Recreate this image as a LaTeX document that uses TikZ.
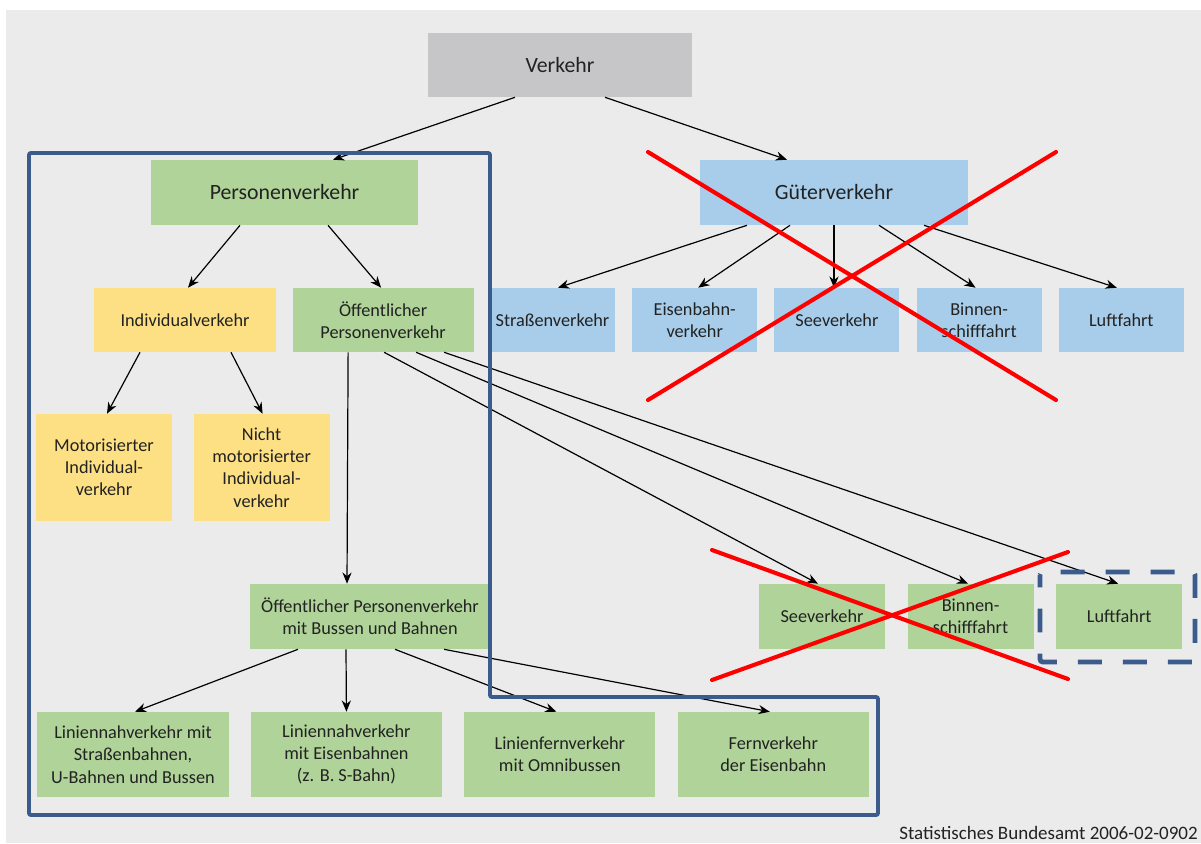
\documentclass[tikz,border=0pt]{standalone}
\usepackage{fontspec}
\setmainfont{Carlito}
\usepackage{xcolor}
\usepackage{tikz}
\usetikzlibrary{shapes,arrows,arrows.meta,positioning,calc}
\definecolor{bggray}{HTML}{EBEBEB}
\definecolor{topgray}{HTML}{C6C6C8}
\definecolor{pgreen}{HTML}{AFD398}
\definecolor{pyellow}{HTML}{FDE083}
\definecolor{gblue}{HTML}{A7CDEA}
\definecolor{framblue}{HTML}{3B5B8C}
\definecolor{txtgray}{HTML}{222222}
\tikzstyle{bigbox} = [rectangle, inner sep=0pt, text centered, align=center, minimum height=1.625cm, text=txtgray, font=\fontsize{15.5}{18}\selectfont]
\tikzstyle{process} = [rectangle, inner sep=0pt, text centered, align=center, minimum height=1.6cm, text=txtgray, font=\fontsize{13}{15.8}\selectfont]
\tikzstyle{arrow} = [line width=0.85pt,->,>={Stealth[length=8pt,width=6.5pt]}]
\tikzstyle{frame} = [draw=framblue, line width=2.8pt, rounded corners=1.5pt]
\tikzstyle{dashframe} = [draw=framblue, line width=3.4pt, rounded corners=2pt, dash pattern=on 17pt off 15pt, dash phase=8pt]
\tikzstyle{cross} = [draw=red, line width=2.9pt, line cap=round]

\begin{document}
\begin{tikzpicture}[x=0.025cm, y=-0.025cm]
    \useasboundingbox (0,0) rectangle (1201,843);
    \fill[white] (0,0) rectangle (1201,843);
    \fill[bggray] (6,10) rectangle (1201,843);

    % Top levels
    \node [bigbox, fill=topgray, minimum width=6.6cm, minimum height=1.6cm] (verkehr) at (560,65) {Verkehr};
    \node [bigbox, fill=pgreen, minimum width=6.675cm] (personen) at (284.5,192.5) {Personenverkehr};
    \node [bigbox, fill=gblue, minimum width=6.7cm] (gueter) at (834,192.5) {Güterverkehr};

    % Personenverkehr
    \node [process, fill=pyellow, minimum width=4.55cm] (individual) at (185,320) {Individualverkehr};
    \node [process, fill=pgreen, minimum width=4.525cm, right=0.4cm of individual] (oeffentlich) {Öffentlicher\\Personenverkehr};
    \node [process, fill=pyellow, minimum width=3.4cm, minimum height=2.675cm] (motor) at (104,467.5) {Motorisierter\\Individual-\\verkehr};
    \node [process, fill=pyellow, minimum width=3.4cm, minimum height=2.675cm, right=0.525cm of motor] (nichtmotor) {Nicht\\motorisierter\\Individual-\\verkehr};
    \node [process, fill=pgreen, minimum width=6cm, minimum height=1.625cm] (oepnv) at (370,616.5) {Öffentlicher Personenverkehr\\mit Bussen und Bahnen};
    \node [process, fill=pgreen, minimum width=3.15cm, minimum height=1.625cm] (seeP) at (822,616.5) {Seeverkehr};
    \node [process, fill=pgreen, minimum width=3.15cm, minimum height=1.625cm, right=0.55cm of seeP] (binnenP) {Binnen-\\schifffahrt};
    \node [process, fill=pgreen, minimum width=3.15cm, minimum height=1.625cm, right=0.55cm of binnenP] (luftP) {Luftfahrt};
    \node [process, fill=pgreen, minimum width=4.775cm, minimum height=2.125cm] (nahstrab) at (133,754.5) {Liniennahverkehr mit\\Straßenbahnen,\\U-Bahnen und Bussen};
    \node [process, fill=pgreen, minimum width=4.775cm, minimum height=2.125cm, right=0.545cm of nahstrab] (naheisen) {Liniennahverkehr\\mit Eisenbahnen\\(z. B. S-Bahn)};
    \node [process, fill=pgreen, minimum width=4.775cm, minimum height=2.125cm, right=0.545cm of naheisen] (fernbus) {Linienfernverkehr\\mit Omnibussen};
    \node [process, fill=pgreen, minimum width=4.775cm, minimum height=2.125cm, right=0.545cm of fernbus] (ferneisen) {Fernverkehr\\der Eisenbahn};

    % Gueterverkehr
    \node [process, fill=gblue, minimum width=3.125cm] (strasse) at (552.5,320) {Straßenverkehr};
    \node [process, fill=gblue, minimum width=3.125cm, right=0.415cm of strasse] (eisenbahn) {Eisenbahn-\\verkehr};
    \node [process, fill=gblue, minimum width=3.125cm, right=0.415cm of eisenbahn] (seeG) {Seeverkehr};
    \node [process, fill=gblue, minimum width=3.125cm, right=0.415cm of seeG] (binnenG) {Binnen-\\schifffahrt};
    \node [process, fill=gblue, minimum width=3.125cm, right=0.415cm of binnenG] (luftG) {Luftfahrt};

    \node [anchor=base west, inner sep=0pt, text=txtgray, font=\fontsize{13.5}{15}\selectfont] (quelle) at (899,839) {Statistisches Bundesamt 2006-02-0902};

    % Arrows
    \draw [arrow] ($(verkehr.south)+(-45,0)$) -- ($(personen.north)+(48.5,0)$);
    \draw [arrow] ($(verkehr.south)+(45,0)$) -- ($(gueter.north)+(-47,0)$);
    \draw [arrow] ($(personen.south)+(-44.5,0)$) -- ($(individual.north)+(3,0)$);
    \draw [arrow] ($(personen.south)+(43.5,0)$) -- ($(oeffentlich.north)+(-2,0)$);
    \draw [arrow] ($(individual.south)+(-45,0)$) -- ($(motor.north)+(3,0)$);
    \draw [arrow] ($(individual.south)+(46,0)$) -- ($(nichtmotor.north)+(1,0)$);
    \draw [arrow] ($(oeffentlich.south)+(-35,0)$) -- ($(oepnv.north)+(-23,0)$);
    \draw [arrow] ($(oeffentlich.south)+(1,0)$) -- ($(seeP.north)+(-4,0)$);
    \draw [arrow] ($(oeffentlich.south)+(33,0)$) -- ($(binnenP.north)+(-2.5,0)$);
    \draw [arrow] ($(oeffentlich.south)+(61,0)$) -- ($(luftP.north)+(-1,0)$);
    \draw [arrow] ($(oepnv.south)+(-72,0)$) -- ($(nahstrab.north)+(2,0)$);
    \draw [arrow] ($(oepnv.south)+(-24,0)$) -- ($(naheisen.north)+(0,0)$);
    \draw [arrow] ($(oepnv.south)+(25,0)$) -- ($(fernbus.north)+(-3.5,0)$);
    \draw [arrow] ($(oepnv.south)+(74,0)$) -- ($(ferneisen.north)+(-3.5,0)$);
    \draw [arrow] ($(gueter.south)+(-87,0)$) -- ($(strasse.north)+(5.5,0)$);
    \draw [arrow] ($(gueter.south)+(-44,0)$) -- ($(eisenbahn.north)+(3.5,0)$);
    \draw [arrow] (gueter.south) -- (gueter.south |- seeG.north);
    \draw [arrow] ($(gueter.south)+(45,0)$) -- ($(binnenG.north)+(-3.5,0)$);
    \draw [arrow] ($(gueter.south)+(90,0)$) -- ($(luftG.north)+(-4.5,0)$);

    % Markings
    \draw [frame] (29,153) -- (490,153) -- (490,697) -- (878,697) -- (878,815) -- (29,815) -- cycle;
    \draw [dashframe] (1040,572) rectangle (1195,662);
    \draw [cross] (648,152) -- (1056,400);
    \draw [cross] (648,400) -- (1056,152);
    \draw [cross] (712,550) -- (1068,679);
    \draw [cross] (712,680) -- (1068,552);
\end{tikzpicture}
\end{document}
